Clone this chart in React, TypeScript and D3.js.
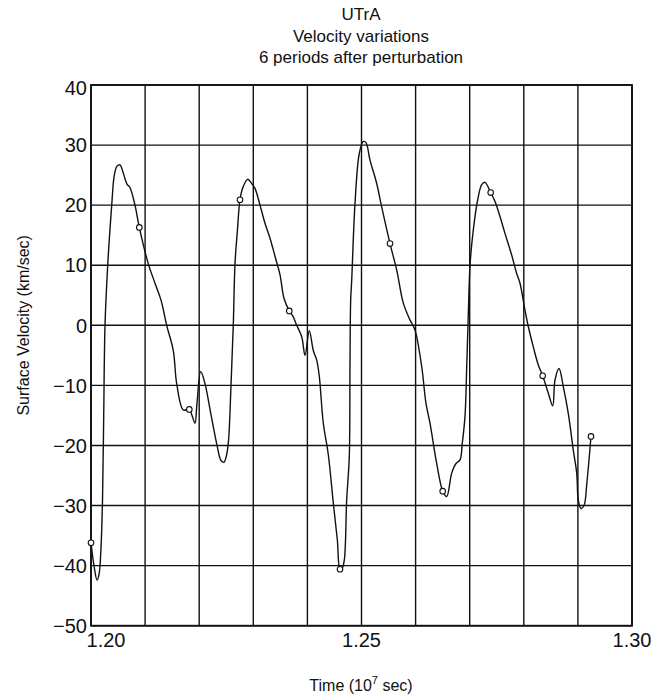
import React from "react";
import * as d3 from "d3";

const titleLines = ["UTrA", "Velocity variations", "6 periods after perturbation"];
const yTickValues = [40, 30, 20, 10, 0, -10, -20, -30, -40, -50];
const yTickLabels = ["40", "30", "20", "10", "0", "−10", "−20", "−30", "−40", "−50"];
const xGridValues = [1.2, 1.21, 1.22, 1.23, 1.24, 1.25, 1.26, 1.27, 1.28, 1.29, 1.3];
const xTickValues = [1.2, 1.25, 1.3];
const xTickLabels = ["1.20", "1.25", "1.30"];

const time = [
  1.2, 1.20055, 1.20111, 1.20148, 1.20185, 1.20213, 1.20235, 1.20259, 1.20309, 1.20383,
  1.20431, 1.20481, 1.20536, 1.20591, 1.20665, 1.20721, 1.20813, 1.20893, 1.21054, 1.21183,
  1.21294, 1.21399, 1.21521, 1.21584, 1.21706, 1.21817, 1.21867, 1.21922, 1.21959, 1.22028,
  1.22107, 1.222, 1.22323, 1.22403, 1.22458, 1.22495, 1.22538, 1.22588, 1.2263, 1.22662,
  1.22708, 1.22754, 1.2281, 1.22896, 1.2297, 1.23031, 1.23124, 1.23216, 1.23309, 1.23401,
  1.23494, 1.23567, 1.23665, 1.23734, 1.23802, 1.23895, 1.23956, 1.24035, 1.24109, 1.24172,
  1.2422, 1.24294, 1.24386, 1.24479, 1.24553, 1.24603, 1.2464, 1.24682, 1.24726, 1.24774,
  1.24787, 1.248, 1.24819, 1.2488, 1.24959, 1.25033, 1.25083, 1.25157, 1.25281, 1.25373,
  1.25527, 1.25651, 1.25773, 1.25896, 1.25989, 1.26113, 1.26192, 1.26266, 1.2639, 1.26501,
  1.26575, 1.26667, 1.26747, 1.26821, 1.26863, 1.26913, 1.26945, 1.26978, 1.27006, 1.27067,
  1.27148, 1.27222, 1.27283, 1.27388, 1.27468, 1.2756, 1.27652, 1.27776, 1.27869, 1.2793,
  1.28022, 1.28083, 1.28176, 1.28268, 1.28349, 1.28453, 1.28534, 1.28577, 1.28651, 1.2873,
  1.28823, 1.28915, 1.28978, 1.29007, 1.29057, 1.29113, 1.29168, 1.29242,
];
const velocity = [
  -36.2, -40, -42.4, -41.5, -37, -29, -15, 0, 10, 20,
  25, 26.5, 26.7, 25.5, 23.5, 22.9, 20, 16.3, 10.4, 7,
  4.2, 0, -4.2, -9.7, -14.1, -14, -15, -16.3, -13, -7.7,
  -9.7, -14, -19.7, -22.5, -22.8, -22, -19.6, -10, 0, 10.3,
  16, 20.9, 23, 24.3, 23.6, 22.8, 20, 17, 14.5, 11.5,
  8.4, 4.5, 2.4, 1.5, 0, -1.9, -5, -0.9, -4.2, -5.8,
  -8.5, -16.3, -21.5, -29.6, -35.7, -40.6, -40.5, -39.1, -29.1, -21.9,
  -6.9, 4.2, 7.5, 20.3, 28.6, 30.6, 30.4, 27.5, 23.6, 19.7,
  13.6, 9.2, 3.7, 0.9, -0.8, -6.9, -13, -16.3, -23, -27.6,
  -28.5, -24.6, -23, -22.4, -19.6, -15.2, -6.9, 3, 10, 15.9,
  20.9, 23.4, 23.8, 22.1, 20.6, 18.1, 15.3, 11.7, 8.6, 7,
  2.5, -0.2, -3.6, -6.6, -8.4, -11.3, -13.4, -9.1, -7.2, -10.2,
  -14.7, -20.8, -24.6, -29.1, -30.5, -30, -26, -18.5,
];

const markerTime = [1.2, 1.20893, 1.21817, 1.22754, 1.23665, 1.24603, 1.25527, 1.26501, 1.27388, 1.28349, 1.29242];
const markerVelocity = [-36.2, 16.3, -14, 20.9, 2.4, -40.6, 13.6, -27.6, 22.1, -8.4, -18.5];

const W = 652;
const H = 697;
const left = 91;
const right = 632;
const top = 85;
const bottom = 625.7;
const FONT = "'Liberation Sans', Arial, sans-serif";

export default function App() {
  const x = d3.scaleLinear().domain([1.2, 1.3]).range([left, right]);
  const y = d3.scaleLinear().domain([-50, 40]).range([bottom, top]);
  const pts: [number, number][] = time.map((t, i) => [t, velocity[i]]);
  const line = d3
    .line<[number, number]>()
    .x((d) => x(d[0]))
    .y((d) => y(d[1]))
    .curve(d3.curveCatmullRom.alpha(0.5));

  return (
    <svg
      width={W}
      height={H}
      style={{ position: "absolute", left: 0, top: 0, background: "#fff" }}
      fontFamily={FONT}
    >
      <rect x={0} y={0} width={W} height={H} fill="#fff" />
      {titleLines.map((t, i) => (
        <text key={t} x={361} y={20 + i * 21.5} fontSize={17} textAnchor="middle" fill="#111">
          {t}
        </text>
      ))}
      {/* horizontal grid */}
      {yTickValues.map((v) => (
        <line key={"h" + v} x1={left} x2={right} y1={y(v)} y2={y(v)} stroke="#111" strokeWidth={1.4} />
      ))}
      {/* vertical grid */}
      {xGridValues.map((v) => (
        <line key={"v" + v} x1={x(v)} x2={x(v)} y1={top} y2={bottom} stroke="#111" strokeWidth={1.4} />
      ))}
      <rect x={left} y={top} width={right - left} height={bottom - top} fill="none" stroke="#111" strokeWidth={1.8} />
      {/* y tick labels */}
      {yTickValues.map((v, i) => (
        <text
          key={"yl" + v}
          x={left - 4}
          y={y(v) + (i === 0 ? 3 : 0)}
          dy="0.36em"
          fontSize={20}
          textAnchor="end"
          fill="#111"
        >
          {yTickLabels[i]}
        </text>
      ))}
      {/* x tick labels */}
      {xTickValues.map((v, i) => (
        <text
          key={"xl" + v}
          x={x(v) + (i === 0 ? 15 : 0)}
          y={bottom + 21}
          fontSize={20}
          textAnchor="middle"
          fill="#111"
        >
          {xTickLabels[i]}
        </text>
      ))}
      <text x={361} y={691} fontSize={16} textAnchor="middle" fill="#111">
        Time (10
        <tspan dy={-7} fontSize={11}>7</tspan>
        <tspan dy={7}> sec)</tspan>
      </text>
      <text
        transform={`translate(29, ${y(0)}) rotate(-90)`}
        fontSize={16}
        textAnchor="middle"
        fill="#111"
      >
        Surface Velocity (km/sec)
      </text>
      <path d={line(pts) || ""} fill="none" stroke="#111" strokeWidth={1.4} />
      {markerTime.map((t, i) => (
        <circle key={"m" + i} cx={x(t)} cy={y(markerVelocity[i])} r={2.8} fill="#fff" stroke="#111" strokeWidth={1.1} />
      ))}
    </svg>
  );
}
